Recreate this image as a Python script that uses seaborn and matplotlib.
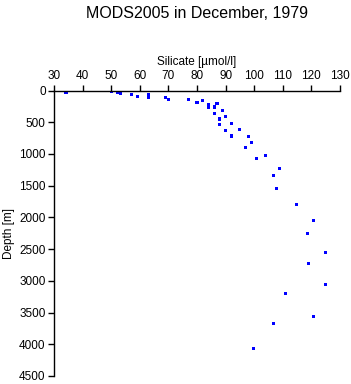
import numpy as np
import pandas as pd
import matplotlib
matplotlib.use("Agg")
import matplotlib.pyplot as plt
import seaborn as sns

# silicate [umol/l] and depth [m]
silicate = [33.9, 34.2, 35.0, 48.1, 50.1, 52.3, 53.1, 57.1, 59.2, 63.0, 63.0,
            69.0, 70.0, 77.0, 80.0, 82.0, 84.0, 84.0, 86.0, 87.0, 86.0, 89.0,
            88.0, 90.0, 88.0, 92.0, 90.0, 95.0, 92.0, 98.0, 98.9, 97.0, 100.9,
            104.0, 109.0, 106.8, 107.9, 114.9, 120.8, 118.7, 124.8, 119.0,
            124.8, 111.0, 120.8, 106.8, 99.8]
depth = [20, 35, 0, 0, 13, 30, 45, 70, 92, 65, 107,
         107, 140, 135, 185, 155, 228, 265, 260, 200, 360, 312,
         450, 405, 532, 517, 627, 611, 717, 722, 816, 895, 1068,
         1027, 1225, 1342, 1540, 1792, 2044, 2255, 2548, 2722,
         3052, 3194, 3556, 3667, 4071]
xticks = list(range(30, 131, 10))
yticks = list(range(0, 4501, 500))

df = pd.DataFrame({"Silicate": silicate, "Depth": depth})

sns.set_style("white")
plt.rcParams['font.family'] = ['Liberation Sans', 'DejaVu Sans']
plt.rcParams['text.color'] = 'black'
plt.rcParams['axes.labelcolor'] = 'black'
plt.rcParams['xtick.color'] = 'black'
plt.rcParams['ytick.color'] = 'black'

fig = plt.figure(figsize=(3.51, 3.84), dpi=100)
ax = fig.add_axes([54/351, 1 - 376/384, (340 - 54)/351, (376 - 90.5)/384])

sns.scatterplot(data=df, x="Silicate", y="Depth", ax=ax, marker="s", s=5,
                color="#0000ff", edgecolor="none", linewidth=0)

ax.set_xlim(30, 130)
ax.set_ylim(4500, 0)
ax.set_xticks(xticks)
ax.set_yticks(yticks)
ax.xaxis.tick_top()
ax.xaxis.set_label_position("top")
ax.tick_params(axis="both", direction="out", length=4, width=1, color="black",
               labelsize=8.5, pad=2, top=True, left=True, bottom=False, right=False)
for side in ["right", "bottom"]:
    ax.spines[side].set_visible(False)
for side in ["top", "left"]:
    ax.spines[side].set_color("black")
    ax.spines[side].set_linewidth(1)
ax.set_xlabel("Silicate [µmol/l]", fontsize=8.5, labelpad=4)
ax.set_ylabel("Depth [m]", fontsize=8.5, labelpad=3)
ax.grid(False)

fig.text(197/351, 1 - 13/384, "MODS2005 in December, 1979", ha="center",
         va="center", fontsize=11.5)

fig.savefig("out.png", dpi=100)
